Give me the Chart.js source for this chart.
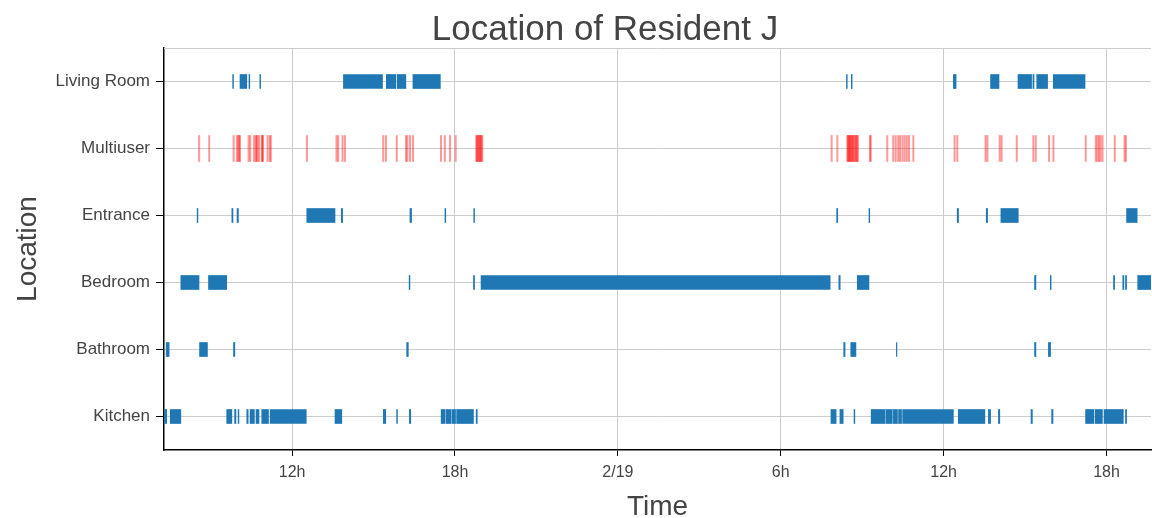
<!DOCTYPE html>
<html>
<head>
<meta charset="utf-8">
<script src="https://cdn.jsdelivr.net/npm/chart.js@4.4.1/dist/chart.umd.min.js"></script>
<style>
html,body{margin:0;padding:0;background:#fff;}
canvas{display:block;}
</style>
</head>
<body>
<canvas id="c" width="1152" height="518"></canvas>
<script>
// Time values are hours since 2/18 00:00
const locations = ['Living Room', 'Multiuser', 'Entrance', 'Bedroom', 'Bathroom', 'Kitchen'];
const tickValues = [12, 18, 24, 30, 36, 42];
const tickLabels = ['12h', '18h', '2/19', '6h', '12h', '18h'];
const chartTitle = 'Location of Resident J';
const timeMin = 7.28;
const timeMax = 43.64;

const livingRoom = [
  [9.81,9.84],[10.08,10.33],[10.41,10.44],[10.81,10.84],[13.89,15.33],[15.47,15.82],[15.87,16.19],
  [16.45,17.46],[32.42,32.45],[32.60,32.63],[36.36,36.46],[37.73,38.04],[38.74,39.24],[39.29,39.33],
  [39.43,39.83],[40.04,41.21]
];
const entrance = [
  [8.50,8.53],[9.78,9.82],[9.97,10.02],[12.54,13.58],[13.81,13.86],[16.34,16.40],[17.63,17.66],
  [18.69,18.72],[32.06,32.10],[33.25,33.28],[36.50,36.55],[37.57,37.62],[38.11,38.75],[42.74,43.13]
];
const bedroom = [
  [7.90,8.57],[8.92,9.59],[16.31,16.34],[18.68,18.72],[18.96,31.82],[32.14,32.19],[32.82,33.25],
  [39.35,39.40],[39.93,39.96],[42.26,42.30],[42.60,42.64],[42.70,42.74],[43.15,43.70]
];
const bathroom = [
  [7.36,7.47],[8.59,8.88],[9.84,9.89],[16.22,16.28],[32.32,32.37],[32.58,32.77],[34.26,34.28],
  [39.35,39.40],[39.86,39.94]
];
const kitchen = [
  [7.29,7.38],[7.51,7.90],[9.59,9.78],[9.88,9.93],[10.01,10.04],[10.33,10.38],[10.45,10.61],
  [10.67,10.78],[10.88,11.13],[11.19,12.52],[13.58,13.83],[15.36,15.45],[15.85,15.88],[16.32,16.37],
  [17.49,17.62],[17.66,17.84],[17.88,18.02],[18.06,18.68],[18.78,18.82],[31.85,32.04],[32.18,32.30],
  [32.70,32.73],[33.33,33.85],[33.89,34.11],[34.15,34.30],[34.34,34.45],[34.49,36.36],[36.54,37.52],
  [37.65,37.73],[38.02,38.07],[39.22,39.27],[39.98,40.03],[41.23,41.54],[41.59,41.85],[41.91,42.62],
  [42.70,42.74]
];
const multiuser = [
  8.55,8.92,9.82,9.94,9.99,10.03,10.05,10.37,10.43,10.57,10.64,10.66,10.70,10.76,10.86,10.88,10.90,
  11.07,11.15,11.19,
  12.52,13.61,13.67,13.83,13.92,15.33,15.43,15.83,16.17,16.22,16.32,16.43,17.46,17.60,17.79,18.00,
  18.76,18.78,18.81,18.84,18.87,18.90,18.92,18.95,18.98,
  31.85,32.06,32.43,32.45,32.48,32.50,32.53,32.55,32.58,32.61,32.63,32.66,32.70,32.73,32.76,32.78,
  32.82,33.26,33.29,33.90,34.12,34.21,34.30,34.37,34.46,
  34.54,34.62,34.70,34.86,36.38,36.48,37.52,37.59,38.04,38.11,38.67,39.28,39.37,39.86,40.02,41.21,
  41.58,41.64,41.70,41.76,41.83,42.28,42.64,42.69
];
const multiuserWidth = 0.05;

const blueSeries = [
  ['Living Room', livingRoom], ['Entrance', entrance], ['Bedroom', bedroom],
  ['Bathroom', bathroom], ['Kitchen', kitchen]
];
const blueData = [];
blueSeries.forEach(([loc, arr]) => arr.forEach(([s, e]) => blueData.push({x: [s, e], y: loc})));
const redData = multiuser.map(t => ({x: [t, t + multiuserWidth], y: 'Multiuser'}));

const textColor = '#444444';
const fontFamily = '"Liberation Sans", Arial, Helvetica, sans-serif';

const decorations = {
  id: 'decorations',
  afterDraw(chart) {
    const {ctx, chartArea} = chart;
    ctx.save();
    ctx.strokeStyle = '#cccccc';
    ctx.lineWidth = 1;
    ctx.beginPath();
    ctx.moveTo(chartArea.left, chartArea.top + 0.5);
    ctx.lineTo(chartArea.right, chartArea.top + 0.5);
    ctx.stroke();
    ctx.fillStyle = textColor;
    ctx.font = '35px ' + fontFamily;
    ctx.textAlign = 'center';
    ctx.textBaseline = 'alphabetic';
    ctx.fillText(chartTitle, 605, 40);
    ctx.restore();
  }
};

new Chart(document.getElementById('c'), {
  type: 'bar',
  data: {
    labels: locations,
    datasets: [
      {
        label: 'Location',
        data: blueData,
        backgroundColor: 'rgb(31,119,180)',
        borderWidth: 0,
        barThickness: 14,
        grouped: false
      },
      {
        label: 'Multiuser',
        data: redData,
        backgroundColor: 'rgba(255,0,0,0.4)',
        borderWidth: 0,
        barThickness: 26,
        grouped: false
      }
    ]
  },
  options: {
    indexAxis: 'y',
    responsive: false,
    animation: false,
    devicePixelRatio: 1,
    layout: {padding: {left: 0, right: 1, top: 48, bottom: 0}},
    plugins: {
      legend: {display: false},
      tooltip: {enabled: false},
      title: {display: false}
    },
    scales: {
      x: {
        type: 'linear',
        min: timeMin,
        max: timeMax,
        afterBuildTicks(scale) { scale.ticks = tickValues.map(v => ({value: v})); },
        afterFit(scale) { scale.height = 68; },
        ticks: {
          color: textColor,
          font: {family: fontFamily, size: 16},
          padding: 7,
          maxRotation: 0,
          callback: (v, i) => tickLabels[i]
        },
        grid: {color: '#cccccc', lineWidth: 1, tickColor: '#000000', tickLength: 6, drawTicks: true},
        border: {color: '#000000', width: 1.5},
        title: {
          display: true,
          text: 'Time',
          color: textColor,
          font: {family: fontFamily, size: 28, lineHeight: 0.8},
          padding: {top: 0, bottom: 0}
        }
      },
      y: {
        type: 'category',
        labels: locations,
        offset: true,
        afterFit(scale) { scale.width = 164; },
        ticks: {
          color: textColor,
          font: {family: fontFamily, size: 17},
          padding: 6
        },
        grid: {color: '#cccccc', lineWidth: 1, offset: false, tickColor: '#000000', tickLength: 8, drawTicks: true},
        border: {color: '#000000', width: 1.5},
        title: {
          display: true,
          text: 'Location',
          color: textColor,
          font: {family: fontFamily, size: 28, lineHeight: 1.2},
          padding: {top: 11, bottom: 0}
        }
      }
    }
  },
  plugins: [decorations]
});
</script>
</body>
</html>
